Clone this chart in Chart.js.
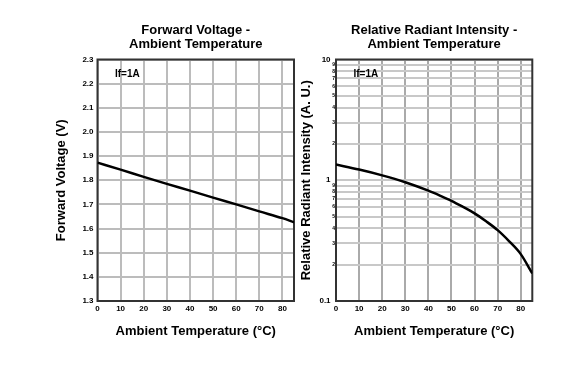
<!DOCTYPE html>
<html>
<head>
<meta charset="utf-8">
<script src="https://cdn.jsdelivr.net/npm/chart.js@4.4.0/dist/chart.umd.min.js"></script>
<style>
  body { margin: 0; background: #fff; width: 565px; height: 372px; position: relative; overflow: hidden; }
  canvas { position: absolute; top: 0; }
  #vfChart { left: 0; }
  #ieChart { left: 290px; }
</style>
</head>
<body>
<canvas id="vfChart" width="300" height="372"></canvas>
<canvas id="ieChart" width="275" height="372"></canvas>
<script>
/* Forward voltage and relative radiant intensity vs ambient temperature */

const FONT = '"Liberation Sans", Arial, sans-serif';

// forward voltage curve
const vfTemps = [0, 10, 20, 30, 40, 50, 60, 70, 80, 85];
const vfValues = [1.873, 1.844, 1.814, 1.785, 1.757, 1.728, 1.700, 1.671, 1.643, 1.626];

// relative radiant intensity curve (log axis)
const ieTemps = [0, 10, 20, 30, 40, 45, 50, 55, 60, 65, 70, 75, 80, 85];
const ieValues = [1.348, 1.226, 1.098, 0.963, 0.820, 0.747, 0.676, 0.602, 0.532, 0.457, 0.386, 0.312, 0.2445, 0.169];

// log axis grid / tick values
const ieTicks = [0.1, 0.2, 0.3, 0.4, 0.5, 0.6, 0.7, 0.8, 0.9, 1, 2, 3, 4, 5, 6, 7, 8, 9, 10];

const vfTitle = ['Forward Voltage -', 'Ambient Temperature'];
const ieTitle = ['Relative Radiant Intensity -', 'Ambient Temperature'];
const xTitle = 'Ambient Temperature (°C)';
const noteText = 'If=1A';

const toPoints = (xs, ys) => xs.map((x, i) => ({ x, y: ys[i] }));

// plot frame + "If=1A" note inside the plot
const framePlugin = {
  id: 'frame',
  beforeDatasetsDraw(chart) {
    const { ctx, chartArea: a } = chart;
    ctx.save();
    ctx.strokeStyle = '#333';
    ctx.lineWidth = 2;
    ctx.strokeRect(a.left, a.top, a.right - a.left, a.bottom - a.top);
    ctx.font = 'bold 10px ' + FONT;
    ctx.fillStyle = '#000';
    ctx.textBaseline = 'alphabetic';
    ctx.fillText(noteText, a.left + 17.5, a.top + 17.3);
    ctx.restore();
  }
};

function xScale() {
  return {
    type: 'linear', min: 0, max: 85,
    border: { display: false },
    grid: { color: '#bcbcbc', lineWidth: 2, drawTicks: false },
    ticks: { stepSize: 10, includeBounds: false, maxRotation: 0, padding: 3, color: '#000',
             font: { family: FONT, size: 8, weight: 'bold' } },
    title: { display: true, text: xTitle, color: '#000',
             font: { family: FONT, size: 13, weight: 'bold', lineHeight: '14px' },
             padding: { top: 0, bottom: 33.7 } },
    afterFit: s => { s.height = 71; }
  };
}

function baseOptions(title, padRight) {
  return {
    responsive: false, animation: false, devicePixelRatio: 1,
    layout: { padding: { top: 0, left: 0, right: padRight, bottom: 0 } },
    plugins: {
      legend: { display: false },
      tooltip: { enabled: false },
      title: { display: true, text: title, fullSize: false, color: '#000',
               font: { family: FONT, size: 13, weight: 'bold', lineHeight: '14px' },
               padding: { top: 23.5, bottom: 8 } }
    }
  };
}

function lineDataset(xs, ys) {
  return {
    data: toPoints(xs, ys),
    borderColor: '#000', borderWidth: 2.5, pointRadius: 0,
    cubicInterpolationMode: 'monotone', fill: false
  };
}

// left chart
const vfOpts = baseOptions(vfTitle, 6);
vfOpts.scales = {
  x: xScale(),
  y: {
    min: 1.3, max: 2.3,
    border: { display: false },
    grid: { color: '#bcbcbc', lineWidth: 2, drawTicks: false },
    ticks: { stepSize: 0.1, padding: 4, color: '#000', callback: v => v.toFixed(1),
             font: { family: FONT, size: 8, weight: 'bold' } },
    title: { display: true, text: 'Forward Voltage (V)', color: '#000',
             font: { family: FONT, size: 13, weight: 'bold', lineHeight: '14px' },
             padding: { top: 54.7, bottom: 0 } },
    afterFit: s => { s.width = 97.5; }
  }
};
new Chart(document.getElementById('vfChart'), {
  type: 'line',
  data: { datasets: [lineDataset(vfTemps, vfValues)] },
  options: vfOpts,
  plugins: [framePlugin]
});

// right chart
function logParts(v) {
  const e = Math.floor(Math.log10(v) + 1e-9);
  return { e, s: Math.round(v / Math.pow(10, e)) };
}
const isDecade = v => logParts(v).s === 1;

const ieOpts = baseOptions(ieTitle, 32.7);
const ieX = xScale();
ieX.grid.color = '#aaaaaa';
ieOpts.scales = {
  x: ieX,
  y: {
    type: 'logarithmic', min: 0.1, max: 10,
    border: { display: false },
    grid: { color: '#c8c8c8', lineWidth: 2, drawTicks: false },
    afterBuildTicks: s => { s.ticks = ieTicks.map(v => ({ value: v, major: isDecade(v) })); },
    ticks: {
      autoSkip: false, padding: 1, color: '#000',
      callback: v => isDecade(v) ? (v < 1 ? v.toFixed(1) : String(Math.round(v))) + '  ' : String(logParts(v).s),
      font: ctx => ({ family: FONT, weight: 'bold', size: isDecade(ctx.tick.value) ? 8 : 5 })
    },
    title: { display: true, text: 'Relative Radiant Intensity (A. U.)', color: '#000',
             font: { family: FONT, size: 13, weight: 'bold', lineHeight: '14px' },
             padding: { top: 9, bottom: 0 } },
    afterFit: s => { s.width = 46; }
  }
};
new Chart(document.getElementById('ieChart'), {
  type: 'line',
  data: { datasets: [lineDataset(ieTemps, ieValues)] },
  options: ieOpts,
  plugins: [framePlugin]
});
</script>
</body>
</html>
